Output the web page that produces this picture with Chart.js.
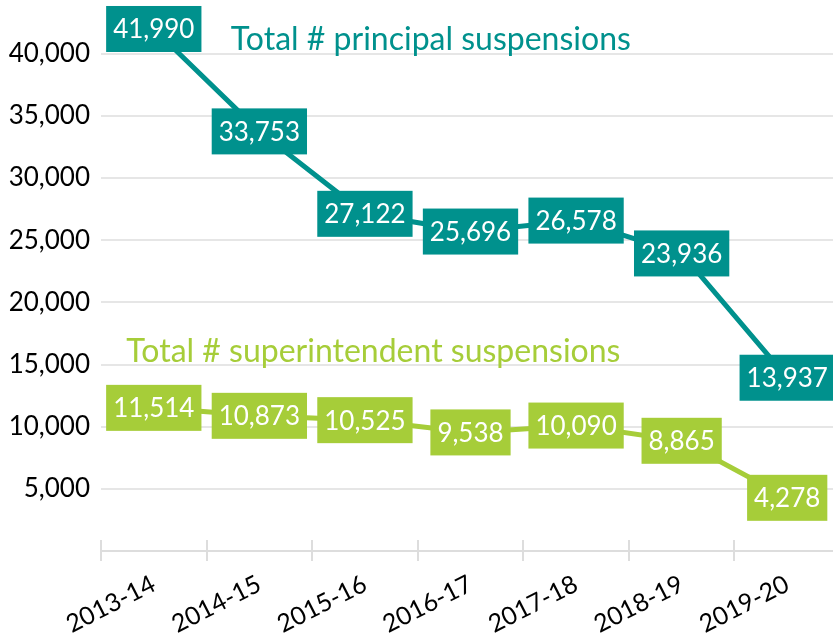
<!DOCTYPE html>
<html>
<head>
<meta charset="utf-8">
<script src="https://cdn.jsdelivr.net/npm/chart.js@4"></script>
<style>
  html, body { margin: 0; padding: 0; background: #fff; overflow: hidden; }
  #wrap { width: 840px; height: 641px; position: relative; }
</style>
</head>
<body>
<div id="wrap"><canvas id="suspensionsChart"></canvas></div>
<script>
const years = ['2013-14', '2014-15', '2015-16', '2016-17', '2017-18', '2018-19', '2019-20'];
const principalSuspensions = [41990, 33753, 27122, 25696, 26578, 23936, 13937];
const superintendentSuspensions = [11514, 10873, 10525, 9538, 10090, 8865, 4278];
const yTickValues = [5000, 10000, 15000, 20000, 25000, 30000, 35000, 40000];

const TEAL = '#00918d';
const GREEN = '#a6cd39';
const FONT = 'Lato, "Open Sans", sans-serif';

// boxed value labels on each point + series titles
const boxLabels = {
    id: 'boxLabels',
    afterDatasetsDraw(chart) {
        const ctx = chart.ctx;
        ctx.save();
        ctx.font = `26px ${FONT}`;
        ctx.textAlign = 'center';
        ctx.textBaseline = 'middle';
        chart.data.datasets.forEach((ds, i) => {
            chart.getDatasetMeta(i).data.forEach((pt, j) => {
                const txt = ds.data[j].toLocaleString('en-US');
                const w = ctx.measureText(txt).width + 14;
                const h = 46;
                ctx.fillStyle = ds.borderColor;
                ctx.fillRect(pt.x - w / 2, pt.y - h / 2, w, h);
                ctx.fillStyle = '#fff';
                ctx.fillText(txt, pt.x, pt.y + 1);
            });
        });
        // series titles
        const x = chart.scales.x, y = chart.scales.y;
        ctx.textAlign = 'left';
        ctx.textBaseline = 'alphabetic';
        ctx.font = `32px ${FONT}`;
        ctx.fillStyle = TEAL;
        ctx.fillText('Total # principal suspensions', x.getPixelForValue(0.73), y.getPixelForValue(40300));
        ctx.fillStyle = GREEN;
        ctx.fillText('Total # superintendent suspensions', x.getPixelForValue(-0.26), y.getPixelForValue(15200));
        // tick marks above the axis line
        ctx.strokeStyle = '#dddddd';
        ctx.lineWidth = 2;
        for (let k = 0; k <= years.length; k++) {
            const px = Math.round(x.getPixelForValue(k - 0.5));
            ctx.beginPath();
            ctx.moveTo(px, y.bottom - 11);
            ctx.lineTo(px, y.bottom);
            ctx.stroke();
        }
        ctx.restore();
    }
};

new Chart(document.getElementById('suspensionsChart'), {
    type: 'line',
    data: {
        labels: years,
        datasets: [
            {
                label: 'Total # principal suspensions',
                data: principalSuspensions,
                borderColor: TEAL,
                backgroundColor: TEAL,
                borderWidth: 5,
                pointRadius: 0,
                tension: 0
            },
            {
                label: 'Total # superintendent suspensions',
                data: superintendentSuspensions,
                borderColor: GREEN,
                backgroundColor: GREEN,
                borderWidth: 5,
                pointRadius: 0,
                tension: 0
            }
        ]
    },
    options: {
        responsive: true,
        maintainAspectRatio: false,
        animation: false,
        layout: { padding: { top: 4, right: 0, left: 0, bottom: 0 } },
        plugins: {
            legend: { display: false },
            tooltip: { enabled: false }
        },
        scales: {
            x: {
                offset: true,
                grid: {
                    offset: true,
                    drawOnChartArea: false,
                    color: '#dddddd',
                    lineWidth: 2,
                    tickLength: 10
                },
                border: { color: '#dddddd', width: 2 },
                ticks: {
                    color: '#000',
                    font: { family: FONT, size: 25 },
                    minRotation: 27,
                    maxRotation: 27,
                    padding: 8
                },
                afterFit(scale) {
                    scale.height = 90;
                    scale.paddingLeft = 0;
                    scale.paddingRight = 0;
                }
            },
            y: {
                min: 0,
                max: 44000,
                border: { display: false },
                grid: {
                    color: '#e6e6e6',
                    lineWidth: 2,
                    drawTicks: false
                },
                ticks: {
                    color: '#000',
                    font: { family: FONT, size: 26 },
                    padding: 11,
                    callback: v => v.toLocaleString('en-US')
                },
                afterBuildTicks(scale) {
                    scale.ticks = yTickValues.map(v => ({ value: v }));
                },
                afterFit(scale) {
                    scale.width = 101;
                    scale.paddingTop = 0;
                    scale.paddingBottom = 0;
                }
            }
        }
    },
    plugins: [boxLabels]
});
</script>
</body>
</html>
